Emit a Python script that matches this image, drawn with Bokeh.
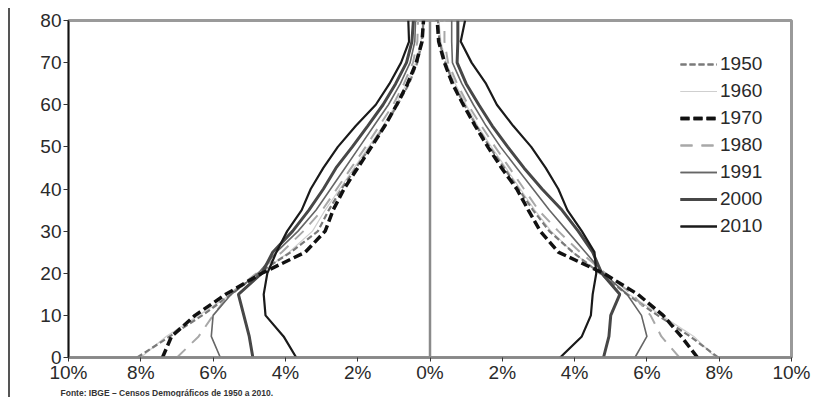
from bokeh.plotting import figure
from bokeh.models import (Span, Legend, LegendItem, FixedTicker, CustomJSTickFormatter,
                          Title, Range1d)
from bokeh.embed import file_html
from bokeh.resources import INLINE

ages = [0, 5, 10, 15, 20, 25, 30, 35, 40, 45, 50, 55, 60, 65, 70, 75, 80]

# left side (men), % of population
m1950 = [8.1, 7.2, 6.3, 5.5, 4.75, 3.85, 3.1, 2.8, 2.45, 2.05, 1.65, 1.25, 0.9, 0.58, 0.35, 0.22, 0.18]
m1960 = [8.0, 7.3, 6.4, 5.5, 4.7, 3.9, 3.25, 2.9, 2.5, 2.1, 1.7, 1.3, 0.95, 0.65, 0.4, 0.25, 0.2]
m1970 = [7.4, 7.15, 6.5, 5.65, 4.65, 3.45, 2.9, 2.68, 2.38, 2.0, 1.62, 1.25, 0.92, 0.62, 0.38, 0.22, 0.18]
m1980 = [7.0, 6.4, 6.0, 5.55, 4.8, 4.1, 3.5, 2.98, 2.58, 2.18, 1.78, 1.4, 1.02, 0.72, 0.47, 0.35, 0.33]
m1991 = [5.8, 6.05, 6.0, 5.5, 4.75, 4.25, 3.65, 3.15, 2.75, 2.35, 1.95, 1.55, 1.15, 0.82, 0.55, 0.42, 0.4]
m2000 = [4.9, 5.0, 5.15, 5.3, 4.65, 4.35, 3.8, 3.35, 2.95, 2.6, 2.15, 1.72, 1.3, 0.95, 0.65, 0.5, 0.46]
m2010 = [3.7, 4.05, 4.55, 4.6, 4.5, 4.25, 3.95, 3.55, 3.3, 2.95, 2.55, 2.05, 1.5, 1.12, 0.8, 0.58, 0.6]

# right side (women), % of population
f1950 = [7.97, 7.2, 6.3, 5.45, 4.7, 3.95, 3.3, 2.85, 2.45, 2.05, 1.65, 1.28, 0.95, 0.65, 0.42, 0.26, 0.22]
f1960 = [7.9, 7.3, 6.4, 5.5, 4.7, 3.95, 3.35, 2.9, 2.5, 2.1, 1.7, 1.32, 1.0, 0.7, 0.45, 0.3, 0.25]
f1970 = [7.4, 6.95, 6.45, 5.75, 4.8, 3.55, 3.05, 2.72, 2.4, 1.98, 1.6, 1.25, 0.92, 0.62, 0.4, 0.24, 0.2]
f1980 = [6.9, 6.4, 6.1, 5.6, 4.85, 4.15, 3.55, 3.0, 2.6, 2.2, 1.8, 1.42, 1.05, 0.75, 0.5, 0.4, 0.4]
f1991 = [5.67, 6.0, 5.85, 5.45, 4.8, 4.3, 3.8, 3.3, 2.85, 2.4, 1.95, 1.55, 1.2, 0.88, 0.62, 0.6, 0.6]
f2000 = [4.8, 4.95, 5.0, 5.25, 4.75, 4.5, 4.1, 3.65, 3.1, 2.6, 2.15, 1.72, 1.35, 1.0, 0.75, 0.77, 0.77]
f2010 = [3.6, 4.2, 4.45, 4.5, 4.6, 4.55, 4.2, 3.8, 3.55, 3.2, 2.8, 2.3, 1.85, 1.55, 1.15, 0.85, 0.97]

years = ["1950", "1960", "1970", "1980", "1991", "2000", "2010"]
men = [m1950, m1960, m1970, m1980, m1991, m2000, m2010]
women = [f1950, f1960, f1970, f1980, f1991, f2000, f2010]

x_ticks = [-10, -8, -6, -4, -2, 0, 2, 4, 6, 8, 10]
y_ticks = [0, 10, 20, 30, 40, 50, 60, 70, 80]
source_text = "Fonte: IBGE – Censos Demográficos de 1950 a 2010."

styles = {
    "1950": dict(line_color="#7a7a7a", line_width=2.2, line_dash="6 3"),
    "1960": dict(line_color="#cfcfcf", line_width=1.2, line_dash="solid"),
    "1970": dict(line_color="#111111", line_width=3.5, line_dash="9 4"),
    "1980": dict(line_color="#a8a8a8", line_width=2.0, line_dash="12 9"),
    "1991": dict(line_color="#666666", line_width=1.6, line_dash="solid"),
    "2000": dict(line_color="#474747", line_width=3.0, line_dash="solid"),
    "2010": dict(line_color="#1a1a1a", line_width=2.2, line_dash="solid"),
}
draw_order = ["1960", "1950", "1980", "1991", "2000", "2010", "1970"]

FONT = "Liberation Sans"

p = figure(width=811, height=389, output_backend="svg", toolbar_location=None,
           x_range=Range1d(-10, 10), y_range=Range1d(0, 80),
           min_border_left=58, min_border_right=30, min_border_top=12, min_border_bottom=30)
p.styles = {"border-left": "2px solid #555555", "margin-left": "8px", "margin-top": "8px"}
p.xgrid.visible = False
p.ygrid.visible = False
p.outline_line_color = "#9a9a9a"
p.outline_line_width = 3

p.add_layout(Span(location=0, dimension="height", line_color="#8a8a8a", line_width=2.5))

renderers = {}
for yr in draw_order:
    i = years.index(yr)
    rl = p.line([-v for v in men[i]], ages, **styles[yr])
    rr = p.line(women[i], ages, **styles[yr])
    renderers[yr] = [rl, rr]

legend = Legend(items=[LegendItem(label=yr, renderers=renderers[yr]) for yr in years],
                location=(612, 120), orientation="vertical",
                glyph_width=37, glyph_height=20, spacing=5, label_standoff=3,
                padding=0, margin=0, border_line_color=None, background_fill_alpha=0,
                label_text_font=FONT, label_text_font_size="19px", label_text_color="#2a2a2a")
p.add_layout(legend)

p.xaxis.ticker = FixedTicker(ticks=x_ticks)
p.xaxis.formatter = CustomJSTickFormatter(code="return Math.abs(tick) + '%';")
p.yaxis.ticker = FixedTicker(ticks=y_ticks)
p.xaxis.minor_tick_line_color = None
p.yaxis.minor_tick_line_color = None
p.xaxis.major_tick_in = 0
p.xaxis.major_tick_out = 4
p.yaxis.major_tick_in = 0
p.yaxis.major_tick_out = 5
p.xaxis.axis_line_color = "#888888"
p.xaxis.axis_line_width = 2.5
p.yaxis.axis_line_color = "#111111"
p.yaxis.axis_line_width = 1.5
for ax in (p.xaxis, p.yaxis):
    ax.major_label_text_font = FONT
    ax.major_label_text_font_size = "19px"
    ax.major_label_text_color = "#2a2a2a"
    ax.major_tick_line_color = "#333333"
p.xaxis.major_label_standoff = 0
p.yaxis.major_label_standoff = 2

p.add_layout(Title(text=source_text, align="left", offset=-8,
                   text_font=FONT, text_font_size="8.5px", text_font_style="bold",
                   text_color="#333333", standoff=0), "below")

open("out.html", "w").write(file_html(p, INLINE))
